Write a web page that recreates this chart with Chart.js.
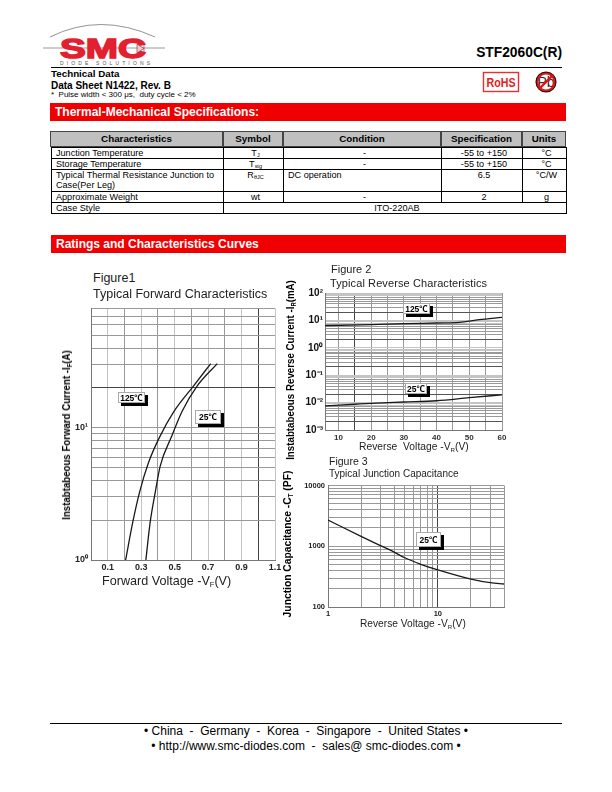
<!DOCTYPE html>
<html>
<head>
<meta charset="utf-8">
<title>STF2060C(R)</title>
<script src="https://cdn.jsdelivr.net/npm/chart.js@4/dist/chart.umd.min.js"></script>
<style>
    html, body { margin: 0; padding: 0; background: #fff; }
    body { position: relative; width: 612px; height: 792px; overflow: hidden; font-family: "Liberation Sans", Arial, sans-serif; color: #000; }
    .t { position: absolute; white-space: nowrap; line-height: 1; }
    .b { font-weight: bold; }
    .bar { position: absolute; background: #f00000; color: #fff; font-weight: bold; font-size: 12px; line-height: 18px; padding-left: 5px; box-sizing: border-box; }
    .rule { position: absolute; background: #000; height: 1px; }
    canvas { position: absolute; filter: blur(0.3px); }
    .rot { transform: translate(-50%, -50%) rotate(-90deg) scaleX(0.92); transform-origin: center; line-height: 12px; }
    .gray { color: #222; }
    sub { font-size: 60%; vertical-align: baseline; position: relative; top: 0.25em; line-height: 0; }
    .lbl { position: absolute; background: #fff; border: 1px solid #aaa; box-sizing: border-box; font-size: 8.5px; font-weight: bold; text-align: center; box-shadow: 3px 3px 0 #000; font-family: "Liberation Sans", "Noto Sans CJK SC", sans-serif; }
    table { position: absolute; left: 51px; top: 147px; width: 515px; border-collapse: collapse; table-layout: fixed; font-size: 9.1px; }
    td { border: 1px solid #000; padding: 0 0 0 4px; line-height: 10px; vertical-align: top; text-align: center; overflow: hidden; }
    td.l { text-align: left; }
    .head div { position: absolute; top: 131px; height: 16px; background: #c0c0c0; border: 1px solid #444; box-sizing: border-box; font-size: 9.8px; font-weight: bold; line-height: 14px; text-align: center; }
</style>
</head>
<body>

<svg style="position:absolute;left:0;top:0" width="200" height="70">
    <path d="M50 37 Q100 12 155 37" fill="none" stroke="#777" stroke-width="0.8"/>
    <line x1="43" y1="48" x2="165" y2="48" stroke="#999" stroke-width="1"/>
    <text x="60" y="58" font-family="Liberation Sans" font-weight="bold" font-size="28" fill="#e3202f" stroke="#e3202f" stroke-width="1.5" textLength="86" lengthAdjust="spacingAndGlyphs">SMC</text>
    <path d="M137 44 L137 53 L144 48.5 Z M144 44 L144 53" fill="#f4c8c8" stroke="#a03040" stroke-width="0.7"/>
    <text x="60" y="64.5" font-family="Liberation Sans" font-size="5" fill="#555" textLength="90">DIODE SOLUTIONS</text>
</svg>
<div class="t b" style="right:50px;top:46px;font-size:13.8px">STF2060C(R)</div>
<div class="rule" style="left:51px;top:67px;width:511px"></div>
<div class="t b" style="left:51px;top:69px;font-size:9.8px">Technical Data</div>
<div class="t b" style="left:51px;top:81px;font-size:10px">Data Sheet N1422, Rev. B</div>
<div class="t" style="left:51px;top:91px;font-size:8px">*&nbsp; Pulse width &lt; 300 μs,&nbsp; duty cycle &lt; 2%</div>

<svg style="position:absolute;left:480px;top:68px" width="82" height="30">
    <rect x="3.5" y="4.5" width="35" height="19" fill="none" stroke="#e83030" stroke-width="1.4"/>
    <text x="21" y="19" text-anchor="middle" font-family="Liberation Sans" font-weight="bold" font-size="12" fill="#e02020" textLength="29" lengthAdjust="spacingAndGlyphs">RoHS</text>
    <text x="66" y="19" text-anchor="middle" font-family="Liberation Sans" font-size="14" fill="#333">Pb</text>
    <circle cx="66" cy="14" r="9.8" fill="none" stroke="#111" stroke-width="1.5"/>
    <circle cx="66" cy="14" r="8.5" fill="none" stroke="#e81010" stroke-width="2"/>
    <line x1="59" y1="21" x2="73" y2="7" stroke="#e81010" stroke-width="2.4"/>
</svg>

<div class="bar" style="left:50px;top:103px;width:516px;height:18px">Thermal-Mechanical Specifications:</div>

<div class="head">
    <div style="left:50px;width:173px">Characteristics</div>
    <div style="left:223px;width:60px">Symbol</div>
    <div style="left:283px;width:158px">Condition</div>
    <div style="left:441px;width:81px">Specification</div>
    <div style="left:522px;width:44px">Units</div>
</div>
<table>
    <colgroup><col style="width:172px"><col style="width:60px"><col style="width:158px"><col style="width:81px"><col style="width:44px"></colgroup>
    <tr style="height:11px"><td class="l">Junction Temperature</td><td>T<sub>J</sub></td><td>-</td><td>-55 to +150</td><td>°C</td></tr>
    <tr style="height:11px"><td class="l">Storage Temperature</td><td>T<sub>stg</sub></td><td>-</td><td>-55 to +150</td><td>°C</td></tr>
    <tr style="height:22px"><td class="l">Typical Thermal Resistance Junction to Case(Per Leg)</td><td>R<sub>θJC</sub></td><td class="l">DC operation</td><td>6.5</td><td>°C/W</td></tr>
    <tr style="height:11px"><td class="l">Approximate Weight</td><td>wt</td><td>-</td><td>2</td><td>g</td></tr>
    <tr style="height:11px"><td class="l">Case Style</td><td colspan="4">ITO-220AB</td></tr>
</table>

<div class="bar" style="left:51px;top:235px;width:515px;height:18px">Ratings and Characteristics Curves</div>

<canvas id="fig1"></canvas>
<canvas id="fig2"></canvas>
<canvas id="fig3"></canvas>

<!-- figure 1 text -->
<div class="t gray" style="left:93px;top:272px;font-size:12.5px">Figure1</div>
<div class="t gray" style="left:93px;top:288px;font-size:12.5px">Typical Forward Characteristics</div>
<div class="t b rot" style="left:66px;top:435px;font-size:10.5px">Instabtabeous Forward Current -I<sub>F</sub>(A)</div>
<div class="t gray" style="left:102px;top:575px;font-size:12.6px">Forward Voltage -V<sub>F</sub>(V)</div>
<div class="lbl" style="left:118px;top:392px;width:27px;height:11px;line-height:10px">125℃</div>
<div class="lbl" style="left:195px;top:410px;width:26px;height:14px;line-height:13px">25℃</div>

<!-- figure 2 text -->
<div class="t gray" style="left:331px;top:264px;font-size:11px">Figure 2</div>
<div class="t gray" style="left:330px;top:278px;font-size:11px;letter-spacing:0.1px">Typical Reverse Characteristics</div>
<div class="t b rot" style="left:290px;top:370px;font-size:10.6px">Instabtabeous Reverse Current -I<sub>R</sub>(mA)</div>
<div class="t gray" style="left:359px;top:442px;font-size:10.3px">Reverse&nbsp; Voltage -V<sub>R</sub>(V)</div>
<div class="lbl" style="left:403px;top:303px;width:27px;height:11px;line-height:10px">125℃</div>
<div class="lbl" style="left:405px;top:383px;width:22px;height:11px;line-height:10px">25℃</div>

<!-- figure 3 text -->
<div class="t gray" style="left:329px;top:456px;font-size:10.5px">Figure 3</div>
<div class="t gray" style="left:329px;top:469px;font-size:10px">Typical Junction Capacitance</div>
<div class="t b rot" style="left:287px;top:544px;font-size:11.2px">Junction Capacitance -C<sub>T</sub> (PF)</div>
<div class="t gray" style="left:360px;top:619px;font-size:10.2px">Reverse Voltage -V<sub>R</sub>(V)</div>
<div class="lbl" style="left:416px;top:532px;width:25px;height:15px;line-height:14px">25℃</div>

<div class="rule" style="left:50px;top:723px;width:512px"></div>
<div class="t" style="left:0;width:612px;text-align:center;top:725px;font-size:12px">• China&nbsp; -&nbsp; Germany&nbsp; -&nbsp; Korea&nbsp; -&nbsp; Singapore&nbsp; -&nbsp; United States •</div>
<div class="t" style="left:0;width:612px;text-align:center;top:740px;font-size:12px">• http://www.smc-diodes.com&nbsp; -&nbsp; sales@ smc-diodes.com •</div>

<script>
    // Figure 1 - forward voltage (V) vs forward current (A)
    const fwdV125 = [0.207, 0.25, 0.29, 0.344, 0.41, 0.496, 0.61, 0.716];
    const fwdI125 = [1, 1.94, 3.25, 5.46, 8.5, 13.3, 20.5, 30.6];
    const fwdV25 = [0.328, 0.354, 0.384, 0.414, 0.483, 0.544, 0.632, 0.755];
    const fwdI25 = [1, 1.94, 3.25, 5.15, 8.66, 13.3, 20.5, 30.6];
    const fig1XTicks = [0, 0.1, 0.2, 0.3, 0.4, 0.5, 0.6, 0.7, 0.8, 0.9, 1, 1.1];
    const fig1XLabels = { 0.1: '0.1', 0.3: '0.3', 0.5: '0.5', 0.7: '0.7', 0.9: '0.9', 1.1: '1.1' };
    const fig1YTicks = [1, 2, 3, 4, 5, 6, 7, 8, 9, 10, 20, 30, 40, 50, 60, 70, 80];
    const fig1YLabels = { 1: '10⁰', 10: '10¹' };

    // Figure 2 - reverse voltage (V) vs reverse current (mA)
    const revV125 = [5.9, 20, 30, 40, 47, 53, 60];
    const revI125 = [6.46, 7.0, 7.6, 8.05, 8.5, 10.6, 12.9];
    const revV25 = [5.9, 15, 20, 30, 40, 50, 60];
    const revI25 = [0.00754, 0.0087, 0.0094, 0.0105, 0.0117, 0.0151, 0.0193];
    const fig2XTicks = [10, 15, 20, 25, 30, 35, 40, 45, 50, 55, 60];
    const fig2XLabels = { 10: '10', 20: '20', 30: '30', 40: '40', 50: '50', 60: '60' };
    const fig2YDecades = [0.001, 0.01, 0.1, 1, 10];
    const fig2YMantissas = [1, 2, 3, 4, 5, 6, 7, 8, 9];
    const fig2YTop = 100;
    const fig2YLabels = { 0.001: '10⁻³', 0.01: '10⁻²', 0.1: '10⁻¹', 1: '10⁰', 10: '10¹', 100: '10²' };

    // Figure 3 - reverse voltage (V) vs capacitance (pF)
    const capV = [1, 2, 3, 4, 5, 7, 10, 20, 30, 40];
    const capC = [2700, 1452, 1025, 800, 647, 505, 408, 288, 251, 239];
    const fig3XTicks = [1, 2, 3, 4, 5, 6, 7, 8, 9, 10, 20, 30, 40];
    const fig3XLabels = { 1: '1', 10: '10' };
    const fig3YTicks = [100, 200, 300, 400, 500, 600, 700, 800, 900, 1000, 2000, 3000, 4000, 5000, 6000, 7000, 8000, 9000, 10000];
    const fig3YLabels = { 100: '100', 1000: '1000', 10000: '10000' };

    const darkGrid = '#444';
    const midGrid = '#999';
    const lightGrid = '#c4c4c4';

    function points(xs, ys) {
        return xs.map((x, i) => ({ x: x, y: ys[i] }));
    }

    function curve(xs, ys) {
        return {
            data: points(xs, ys),
            borderColor: '#1a1a1a',
            borderWidth: 1.3,
            pointRadius: 0,
            cubicInterpolationMode: 'monotone'
        };
    }

    // figure 2's current axis runs over five decades, one tick per mantissa
    function decadeTicks(decades, mantissas, top) {
        const out = [];
        decades.forEach(d => mantissas.forEach(m => out.push(+(d * m).toPrecision(3))));
        out.push(top);
        return out;
    }

    // canvas is placed and the axis boxes fixed so the plot area lands where it should
    function makeChart(id, box, datasets, xScale, yScale) {
        const canvas = document.getElementById(id);
        canvas.width = box.width;
        canvas.height = box.height;
        canvas.style.left = box.left + 'px';
        canvas.style.top = box.top + 'px';
        canvas.style.width = box.width + 'px';
        canvas.style.height = box.height + 'px';
        xScale.afterFit = s => { s.height = box.xHeight; };
        yScale.afterFit = s => { s.width = box.yWidth; };
        return new Chart(canvas, {
            type: 'line',
            data: { datasets: datasets },
            options: {
                responsive: false,
                animation: false,
                parsing: false,
                layout: { padding: { top: box.padTop, right: box.padRight } },
                plugins: { legend: { display: false }, tooltip: { enabled: false } },
                scales: { x: xScale, y: yScale }
            }
        });
    }

    function axis(type, min, max, tickValues, labels, grid, ticks) {
        return {
            type: type, min: min, max: max,
            border: { color: '#777', width: 1 },
            grid: { color: grid, lineWidth: 1, drawTicks: false },
            afterBuildTicks: s => { s.ticks = tickValues.map(v => ({ value: v })); },
            ticks: Object.assign({
                autoSkip: false,
                maxRotation: 0,
                callback: v => labels[v] || ''
            }, ticks)
        };
    }

    function tickStyle(size, padding, color) {
        return { font: { family: 'Liberation Sans', size: size, weight: 'bold' }, padding: padding, color: color };
    }

    makeChart('fig1', { left: 60, top: 300, width: 230, height: 280, padTop: 6, padRight: 15, yWidth: 31, xHeight: 20 },
        [curve(fwdV125, fwdI125), curve(fwdV25, fwdI25)],
        axis('linear', 0, 1.1, fig1XTicks, fig1XLabels,
            c => c.tick.value === 1 ? darkGrid : (c.index % 2 ? lightGrid : midGrid),
            tickStyle(9, 2, '#222')),
        axis('logarithmic', 1, 80, fig1YTicks, fig1YLabels,
            c => c.tick.value === 20 ? darkGrid : midGrid,
            tickStyle(9, 3, '#222')));

    const fig2YTicks = decadeTicks(fig2YDecades, fig2YMantissas, fig2YTop);
    makeChart('fig2', { left: 300, top: 285, width: 212, height: 160, padTop: 6, padRight: 10, yWidth: 25, xHeight: 15 },
        [curve(revV125, revI125), curve(revV25, revI25)],
        axis('linear', 5.9, 60, fig2XTicks, fig2XLabels,
            c => c.tick.value === 15 ? darkGrid : midGrid,
            tickStyle(8, 3, '#333')),
        axis('logarithmic', 0.001, 100, fig2YTicks, fig2YLabels,
            c => {
                const m = fig2YMantissas[c.index % fig2YMantissas.length];
                return m >= 8 || m === 1 ? lightGrid : (m === 2 ? '#555' : midGrid);
            },
            tickStyle(10, 2, '#111')));

    makeChart('fig3', { left: 295, top: 478, width: 220, height: 142, padTop: 5, padRight: 11, yWidth: 33, xHeight: 13 },
        [curve(capV, capC)],
        axis('logarithmic', 1, 40, fig3XTicks, fig3XLabels,
            c => [1, 10].includes(c.tick.value) ? darkGrid : midGrid,
            tickStyle(7.5, 2, '#222')),
        axis('logarithmic', 100, 10000, fig3YTicks, fig3YLabels,
            () => midGrid,
            tickStyle(7.5, 3, '#222')));
</script>
</body>
</html>
